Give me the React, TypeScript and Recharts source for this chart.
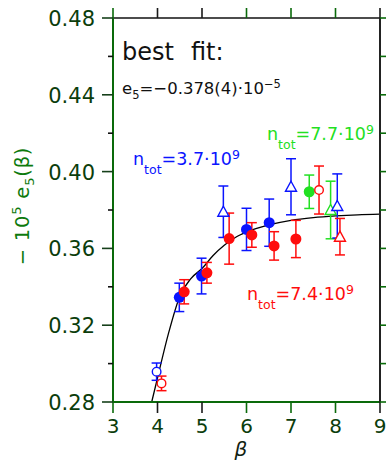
import React from "react";
import { ComposedChart, XAxis, YAxis, Scatter, Line, ErrorBar } from "recharts";

// axis ticks
const X_TICKS = [3, 4, 5, 6, 7, 8, 9];
const Y_TICKS = [0.28, 0.3, 0.32, 0.34, 0.36, 0.38, 0.4, 0.42, 0.44, 0.46, 0.48];
const Y_LABELED = ["0.28", "0.32", "0.36", "0.40", "0.44", "0.48"];

// best fit curve
const FIT_BETA = [3.87, 4.0, 4.25, 4.5, 4.75, 5.0, 5.25, 5.5, 5.75, 6.0, 6.5, 7.0, 7.5, 8.0, 8.5, 9.0];
const FIT_E5 = [0.28, 0.2925, 0.316, 0.335, 0.3443, 0.3495, 0.3563, 0.3616, 0.3657, 0.3685, 0.3722, 0.3746, 0.376, 0.3769, 0.3775, 0.3778];

// n_tot = 3.7e9 (blue)
const BLUE_FILLED_BETA = [4.49, 4.99, 6.0, 6.51];
const BLUE_FILLED_E5 = [0.3345, 0.3456, 0.3699, 0.3734];
const BLUE_FILLED_ERR = [0.0074, 0.0093, 0.011, 0.0123];
const BLUE_OPEN_BETA = [3.98];
const BLUE_OPEN_E5 = [0.2958];
const BLUE_OPEN_ERR = [0.0045];
const BLUE_TRI_BETA = [5.48, 7.0, 8.04];
const BLUE_TRI_E5 = [0.3791, 0.3921, 0.3821];
const BLUE_TRI_ERR = [0.0134, 0.0146, 0.0167];

// n_tot = 7.4e9 (red)
const RED_FILLED_BETA = [4.6, 5.11, 5.61, 6.12, 6.62, 7.11];
const RED_FILLED_E5 = [0.3374, 0.3473, 0.3651, 0.367, 0.3613, 0.3649];
const RED_FILLED_ERR = [0.0063, 0.0054, 0.0133, 0.0064, 0.0074, 0.0097];
const RED_OPEN_BETA = [4.09, 7.63];
const RED_OPEN_E5 = [0.2897, 0.3904];
const RED_OPEN_ERR = [0.0038, 0.0125];
const RED_TRI_BETA = [8.1];
const RED_TRI_E5 = [0.3661];
const RED_TRI_ERR = [0.0095];

// n_tot = 7.7e9 (green)
const GREEN_FILLED_BETA = [7.41];
const GREEN_FILLED_E5 = [0.3895];
const GREEN_FILLED_ERR = [0.0087];
const GREEN_TRI_BETA = [7.89];
const GREEN_TRI_E5 = [0.38];
const GREEN_TRI_ERR = [0.015];

const BLUE = "#0a14ff";
const RED = "#ff0c0c";
const GREEN = "#22e022";
const AXIS_GREEN = "#0a6a0a";
const LABEL_GREEN = "#0b3d0b";
const FONT = "'DejaVu Sans', sans-serif";

const zip = (b: number[], v: number[], e: number[]) =>
  b.map((beta, i) => ({ beta, e5: v[i], err: e[i] }));

const fitData = FIT_BETA.map((beta, i) => ({ beta, e5: FIT_E5[i] }));

const filledDot = (color: string) => (p: any) => (
  <circle cx={p.cx} cy={p.cy} r={5.5} fill={color} />
);
const openDot = (color: string) => (p: any) => (
  <circle cx={p.cx} cy={p.cy} r={4.3} fill="#fff" stroke={color} strokeWidth={1.4} />
);
const triangle = (color: string) => (p: any) => (
  <path
    d={`M${p.cx},${p.cy - 5.5} L${p.cx + 5.5},${p.cy + 4.5} L${p.cx - 5.5},${p.cy + 4.5} Z`}
    fill="#fff"
    stroke={color}
    strokeWidth={1.4}
  />
);

const X_TICK_COLORS = [AXIS_GREEN, "#1a1a1a", "#1a1a1a", AXIS_GREEN, AXIS_GREEN, AXIS_GREEN, "#1a1a1a"];

function BottomTick(props: any) {
  const { x, y, payload, index } = props;
  return (
    <g>
      <line x1={x} x2={x} y1={y - 11} y2={y} stroke={X_TICK_COLORS[index % 7]} strokeWidth={1.6} />
      <text x={x} y={y + 20} textAnchor="middle" fontSize={20} fontFamily={FONT} fill={LABEL_GREEN}>
        {payload.value}
      </text>
    </g>
  );
}

function TopTick(props: any) {
  const { x, y, index } = props;
  return <line x1={x} x2={x} y1={y} y2={y + 10} stroke={X_TICK_COLORS[index % 7]} strokeWidth={1.6} />;
}

function LeftTick(props: any) {
  const { x, y, payload } = props;
  const label = payload.value.toFixed(2);
  const major = Y_LABELED.includes(label);
  return (
    <g>
      <line x1={major ? x : x + 6} x2={x + 11} y1={y} y2={y} stroke={major ? "#16401a" : "#111"} strokeWidth={1.6} />
      {major && (
        <text x={x - 7} y={y + 8} textAnchor="end" fontSize={21} fontFamily={FONT} fill={LABEL_GREEN}>
          {label}
        </text>
      )}
    </g>
  );
}

function RightTick(props: any) {
  const { x, y } = props;
  return <line x1={x - 6} x2={x} y1={y} y2={y} stroke={AXIS_GREEN} strokeWidth={1.6} />;
}

function NLabel({ x, y, color, value }: { x: number; y: number; color: string; value: string }) {
  return (
    <text x={x} y={y} fontSize={17.5} fontFamily={FONT} fill={color}>
      n
      <tspan fontSize={12.5} dy={9}>tot</tspan>
      <tspan dy={-9}>={value}·10</tspan>
      <tspan fontSize={12.5} dy={-6}>9</tspan>
    </text>
  );
}

export default function App() {
  const errProps = { dataKey: "err", direction: "y" as const, width: 5, strokeWidth: 1.5, isAnimationActive: false };

  return (
    <div style={{ position: "relative", width: 387, height: 461, background: "#fff" }}>
      <style>{`body{margin:0}`}</style>
      <ComposedChart width={387} height={461} margin={{ top: 17, right: 6, bottom: 9, left: 0 }}>
        <XAxis
          xAxisId="bottom"
          dataKey="beta"
          type="number"
          domain={[3, 9]}
          ticks={X_TICKS}
          allowDataOverflow
          height={50}
          tickSize={11}
          tickMargin={0}
          tickLine={false}
          axisLine={{ stroke: AXIS_GREEN, strokeWidth: 2 }}
          tick={<BottomTick />}
          interval={0}
        />
        <XAxis
          xAxisId="top"
          orientation="top"
          dataKey="beta"
          type="number"
          domain={[3, 9]}
          ticks={X_TICKS}
          allowDataOverflow
          height={1}
          tickSize={10}
          tickMargin={0}
          tickLine={false}
          axisLine={{ stroke: "#111", strokeWidth: 1.6 }}
          tick={<TopTick />}
          interval={0}
        />
        <YAxis
          yAxisId="left"
          dataKey="e5"
          type="number"
          domain={[0.28, 0.48]}
          ticks={Y_TICKS}
          allowDataOverflow
          width={113}
          tickSize={11}
          tickMargin={0}
          tickLine={false}
          axisLine={{ stroke: AXIS_GREEN, strokeWidth: 2 }}
          tick={<LeftTick />}
          interval={0}
        />
        <YAxis
          yAxisId="right"
          orientation="right"
          dataKey="e5"
          type="number"
          domain={[0.28, 0.48]}
          ticks={Y_TICKS}
          allowDataOverflow
          width={1}
          tickSize={6}
          tickMargin={0}
          tickLine={false}
          axisLine={{ stroke: "#222", strokeWidth: 2 }}
          tick={<RightTick />}
          interval={0}
        />
        <Line
          xAxisId="bottom"
          yAxisId="left"
          data={fitData}
          dataKey="e5"
          type="monotone"
          dot={false}
          activeDot={false}
          stroke="#000"
          strokeWidth={1.3}
          isAnimationActive={false}
        />
        <Scatter xAxisId="bottom" yAxisId="left" data={zip(GREEN_FILLED_BETA, GREEN_FILLED_E5, GREEN_FILLED_ERR)} shape={filledDot(GREEN)} isAnimationActive={false}>
          <ErrorBar {...errProps} stroke={GREEN} />
        </Scatter>
        <Scatter xAxisId="bottom" yAxisId="left" data={zip(GREEN_TRI_BETA, GREEN_TRI_E5, GREEN_TRI_ERR)} shape={triangle(GREEN)} isAnimationActive={false}>
          <ErrorBar {...errProps} stroke={GREEN} />
        </Scatter>
        <Scatter xAxisId="bottom" yAxisId="left" data={zip(BLUE_FILLED_BETA, BLUE_FILLED_E5, BLUE_FILLED_ERR)} shape={filledDot(BLUE)} isAnimationActive={false}>
          <ErrorBar {...errProps} stroke={BLUE} />
        </Scatter>
        <Scatter xAxisId="bottom" yAxisId="left" data={zip(BLUE_OPEN_BETA, BLUE_OPEN_E5, BLUE_OPEN_ERR)} shape={openDot(BLUE)} isAnimationActive={false}>
          <ErrorBar {...errProps} stroke={BLUE} />
        </Scatter>
        <Scatter xAxisId="bottom" yAxisId="left" data={zip(BLUE_TRI_BETA, BLUE_TRI_E5, BLUE_TRI_ERR)} shape={triangle(BLUE)} isAnimationActive={false}>
          <ErrorBar {...errProps} stroke={BLUE} />
        </Scatter>
        <Scatter xAxisId="bottom" yAxisId="left" data={zip(RED_FILLED_BETA, RED_FILLED_E5, RED_FILLED_ERR)} shape={filledDot(RED)} isAnimationActive={false}>
          <ErrorBar {...errProps} stroke={RED} />
        </Scatter>
        <Scatter xAxisId="bottom" yAxisId="left" data={zip(RED_OPEN_BETA, RED_OPEN_E5, RED_OPEN_ERR)} shape={openDot(RED)} isAnimationActive={false}>
          <ErrorBar {...errProps} stroke={RED} />
        </Scatter>
        <Scatter xAxisId="bottom" yAxisId="left" data={zip(RED_TRI_BETA, RED_TRI_E5, RED_TRI_ERR)} shape={triangle(RED)} isAnimationActive={false}>
          <ErrorBar {...errProps} stroke={RED} />
        </Scatter>
      </ComposedChart>

      {/* annotations */}
      <svg width={387} height={461} style={{ position: "absolute", left: 0, top: 0, pointerEvents: "none" }}>
        <text x={122} y={60} fontSize={24} fontFamily={FONT} fill="#111">
          best
          <tspan x={191}>fit:</tspan>
        </text>
        <text x={122} y={94} fontSize={16.5} fontFamily={FONT} fill="#111">
          e
          <tspan fontSize={11.5} dy={5}>5</tspan>
          <tspan dy={-5}>=−0.378(4)·10</tspan>
          <tspan fontSize={11.5} dy={-6}>−5</tspan>
        </text>
        <NLabel x={133} y={165} color={BLUE} value="3.7" />
        <NLabel x={267} y={140} color={GREEN} value="7.7" />
        <NLabel x={247} y={300} color={RED} value="7.4" />
        <text x={241} y={456} textAnchor="middle" fontSize={20} fontStyle="italic" fontFamily={FONT} fill="#112211">
          β
        </text>
        <text
          transform="translate(29,206) rotate(-90)"
          textAnchor="middle"
          fontSize={19.5}
          fontFamily={FONT}
          fill="#0d7a0d"
          letterSpacing={0.8}
        >
          −  10
          <tspan fontSize={13} dy={-8}>5</tspan>
          <tspan dy={8}> e</tspan>
          <tspan fontSize={13} dy={5}>5</tspan>
          <tspan dy={-5}>(β)</tspan>
        </text>
      </svg>
    </div>
  );
}
